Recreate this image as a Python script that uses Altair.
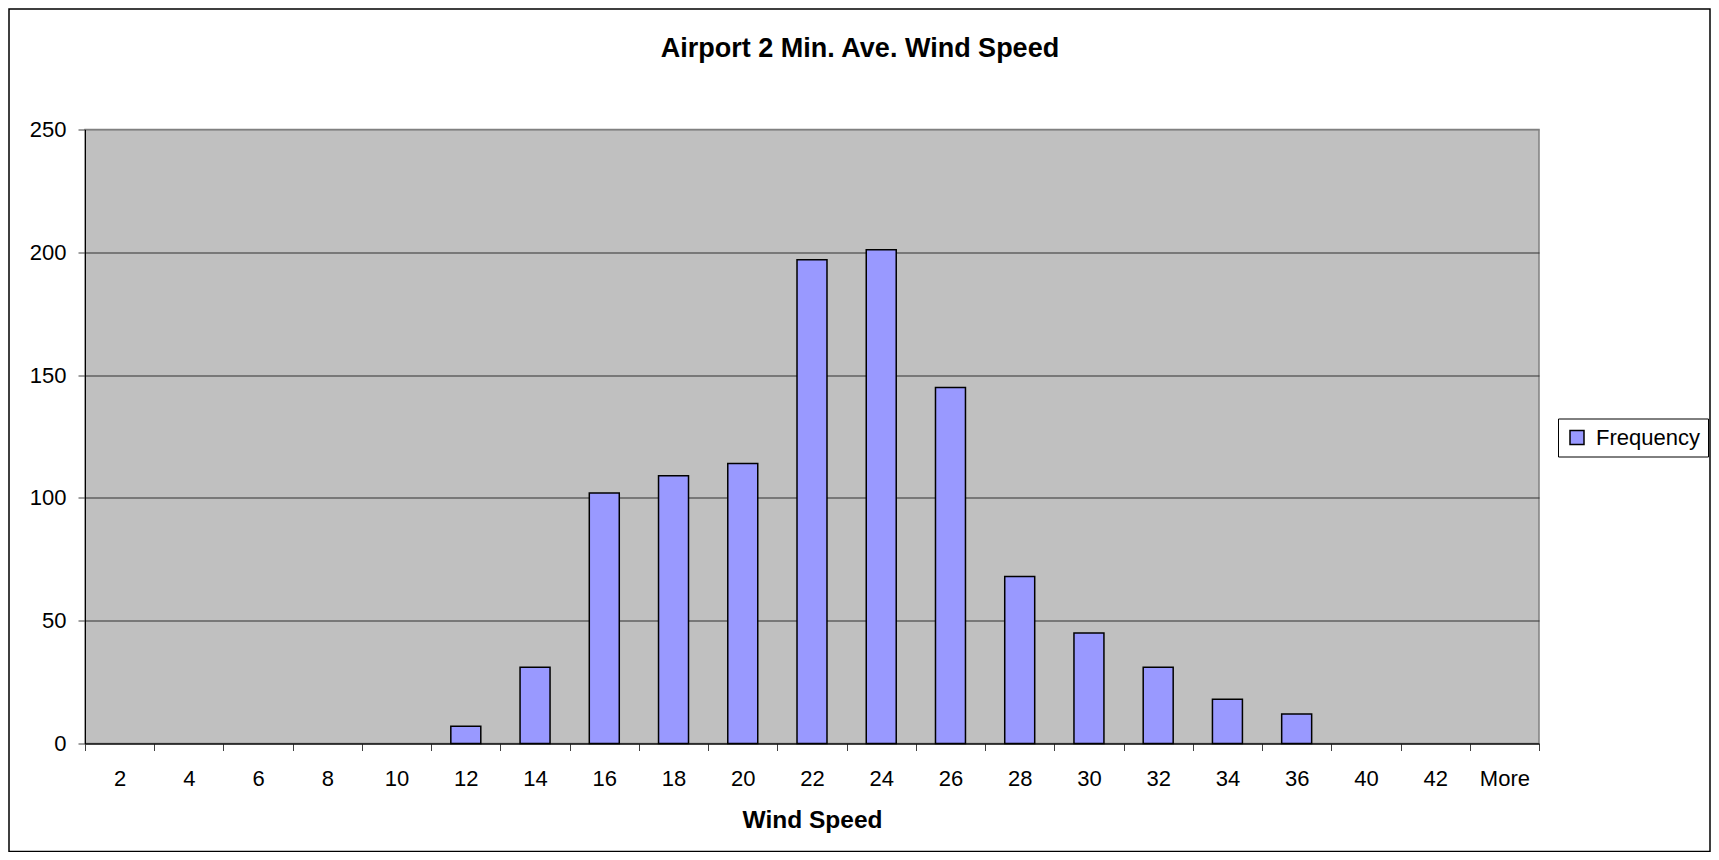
import altair as alt
import pandas as pd

# ---- data ----
categories = ["2", "4", "6", "8", "10", "12", "14", "16", "18", "20", "22",
              "24", "26", "28", "30", "32", "34", "36", "40", "42", "More"]
frequency = [0, 0, 0, 0, 0, 7, 31, 102, 109, 114, 197,
             201, 145, 68, 45, 31, 18, 12, 0, 0, 0]
series_name = "Frequency"
y_ticks = [0, 50, 100, 150, 200, 250]
title_text = "Airport 2 Min. Ave. Wind Speed"
x_title = "Wind Speed"

FONT = "Liberation Sans"

df = pd.DataFrame({
    "Wind Speed": categories,
    "Frequency": frequency,
    "series": [series_name] * len(categories),
})

W, H = 1454, 614

bars = alt.Chart(df).transform_filter("datum.Frequency > 0").mark_bar(
    width=alt.RelativeBandSize(band=0.433),
    stroke="black",
    strokeWidth=1.5,
).encode(
    x=alt.X(
        "Wind Speed:N",
        scale=alt.Scale(domain=categories, paddingInner=0, paddingOuter=0),
        axis=alt.Axis(
            title=x_title,
            titleFont=FONT,
            titleFontSize=24.5,
            titleFontWeight="bold",
            titleColor="black",
            titleY=84,
            titleBaseline="alphabetic",
            labelAngle=0,
            labelFont=FONT,
            labelFontSize=22,
            labelColor="black",
            labelPadding=18,
            tickSize=7,
            tickColor="#404040",
            tickBand="extent",
            domainColor="black",
            grid=False,
        ),
    ),
    y=alt.Y(
        "Frequency:Q",
        scale=alt.Scale(domain=[0, 250], nice=False),
        axis=alt.Axis(
            values=y_ticks,
            title=None,
            grid=True,
            gridColor={"condition": {"test": "datum.value === 250", "value": "#808080"}, "value": "#303030"},
            gridWidth=1,
            tickSize=7,
            tickColor="#404040",
            domainColor="black",
            labelFont=FONT,
            labelFontSize=22,
            labelColor="black",
            labelPadding=12,
        ),
    ),
    color=alt.Color(
        "series:N",
        scale=alt.Scale(range=["#9999FF"]),
        legend=alt.Legend(
            title=None,
            orient="none",
            legendX=1473,
            legendY=289,
            direction="vertical",
            padding=8,
            strokeColor="black",
            fillColor="white",
            symbolType="square",
            symbolSize=196,
            symbolStrokeColor="black",
            symbolStrokeWidth=1.5,
            labelFont=FONT,
            labelFontSize=22,
            labelColor="black",
            labelOffset=8,
        ),
    ),
)

title = alt.Chart(pd.DataFrame({"t": [title_text]})).mark_text(
    font=FONT, fontSize=27, fontWeight="bold", align="center",
    baseline="alphabetic", color="black",
).encode(text="t:N", x=alt.value(775), y=alt.value(-72.8))

frame = alt.Chart(pd.DataFrame({"k": [0]})).mark_rect(
    fillOpacity=0, stroke="black", strokeWidth=1.5,
).encode(x=alt.value(-76), x2=alt.value(1625), y=alt.value(-120.5), y2=alt.value(722))

chart = alt.layer(frame, bars, title).properties(
    width=W,
    height=H,
    autosize=alt.AutoSizeParams(type="none"),
    padding={"left": 77, "top": 121.5, "right": 172, "bottom": 108.5},
    background="white",
).configure_view(
    fill="#C0C0C0",
    stroke="#808080",
    strokeWidth=1.5,
)

chart.save("out.html", embed_options={"renderer": "svg", "actions": False})
